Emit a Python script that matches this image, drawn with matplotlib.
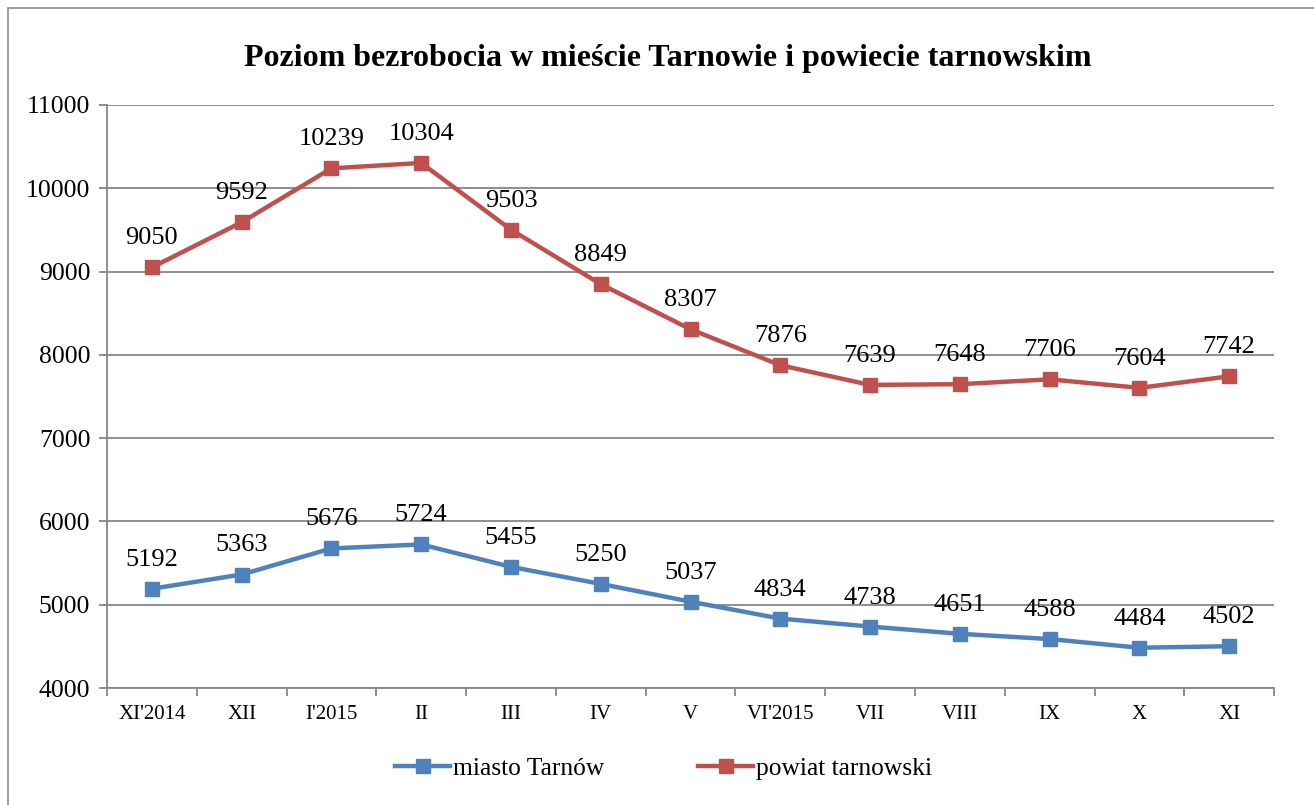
import matplotlib.pyplot as plt
from matplotlib.patches import Rectangle
import numpy as np

plt.rcParams['font.family'] = ['Liberation Serif', 'DejaVu Serif']

# dane
miesiace = ["XI'2014", "XII", "I'2015", "II", "III", "IV", "V",
            "VI'2015", "VII", "VIII", "IX", "X", "XI"]
miasto = [5192, 5363, 5676, 5724, 5455, 5250, 5037, 4834, 4738, 4651, 4588, 4484, 4502]
powiat = [9050, 9592, 10239, 10304, 9503, 8849, 8307, 7876, 7639, 7648, 7706, 7604, 7742]

fig = plt.figure(figsize=(13.14, 8.05), dpi=100)
ax = fig.add_axes([0.0814, 0.1453, 0.8882, 0.7243])

# ramka wykresu
fig.patches.append(Rectangle((8 / 1314, -0.1), 1.2, 1 - 8 / 805 + 0.1,
                             transform=fig.transFigure, fill=False,
                             edgecolor='#8c8c8c', linewidth=1.2))

x = np.arange(len(miesiace))
for y, kolor, nazwa in [(miasto, '#4F81BD', 'miasto Tarnów'),
                        (powiat, '#C0504D', 'powiat tarnowski')]:
    ax.plot(x, y, color=kolor, linewidth=3.2, marker='s', markersize=10,
            label=nazwa, zorder=3)
    for xi, yi in zip(x, y):
        ax.annotate(str(yi), (xi, yi), xytext=(0, 13), textcoords='offset points',
                    ha='center', va='bottom', fontsize=19)

ax.set_xlim(-0.5, len(miesiace) - 0.5)
ax.set_ylim(4000, 11000)
ax.set_yticks(range(4000, 11001, 1000))
ax.yaxis.grid(True, color='#868686', linewidth=1.3)
ax.set_axisbelow(True)

ax.set_xticks(x)
ax.set_xticklabels(miesiace, fontsize=15)
ax.set_xticks(np.arange(-0.5, len(miesiace)), minor=True)
ax.tick_params(axis='x', which='major', length=0, pad=12)
ax.tick_params(axis='x', which='minor', length=6, color='#868686', width=1.3)
ax.tick_params(axis='y', labelsize=18.5, length=6, color='#868686', width=1.3, pad=6)

for s in ['top', 'right']:
    ax.spines[s].set_visible(False)
for s in ['left', 'bottom']:
    ax.spines[s].set_color('#868686')
    ax.spines[s].set_linewidth(1.3)

fig.text(0.508, 0.927, 'Poziom bezrobocia w mieście Tarnowie i powiecie tarnowskim',
         ha='center', va='center', fontsize=23, fontweight='bold')

fig.legend(loc='center', bbox_to_anchor=(0.505, 0.045), ncol=2, frameon=False,
           fontsize=18.4, handlelength=2.15, columnspacing=3.7, handletextpad=0.1)

fig.savefig('out.png', dpi=100)
